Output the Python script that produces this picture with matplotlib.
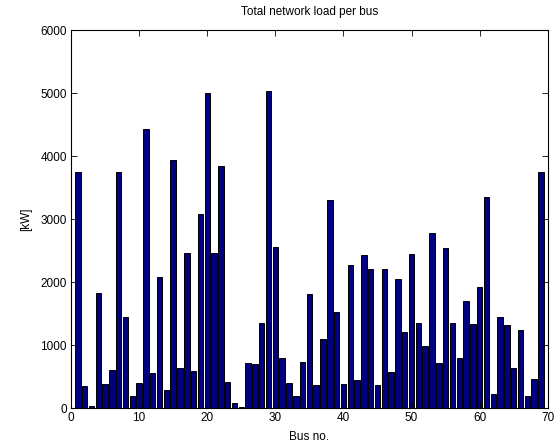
import numpy as np
import matplotlib.pyplot as plt

plt.rcParams['font.family'] = ['Liberation Sans', 'DejaVu Sans']
plt.rcParams['font.size'] = 8.5

# Load per bus in kW
bus = np.arange(1, 70)
load_kw = [3740, 345, 40, 1820, 377, 604, 3740, 1440, 186, 398,
           4430, 557, 2080, 292, 3935, 642, 2465, 588, 3080, 4995,
           2465, 3840, 414, 80, 10, 716, 695, 1347, 5030, 2550,
           801, 393, 186, 732, 1818, 361, 1098, 3310, 1520, 377,
           2270, 446, 2430, 2210, 361, 2210, 573, 2050, 1204, 2445,
           1347, 986, 2785, 716, 2535, 1347, 801, 1696, 1331, 1924,
           3345, 218, 1453, 1315, 642, 1240, 186, 461, 3740]

fig = plt.figure(figsize=(5.55, 4.48), dpi=100)
ax = fig.add_axes([0.128, 0.089, 0.859, 0.844])

ax.bar(bus, load_kw, width=0.8, color='#000080', edgecolor='black', linewidth=0.7)

ax.set_xlim(0, 70)
ax.set_ylim(0, 6000)
ax.set_xticks(np.arange(0, 71, 10))
ax.set_yticks(np.arange(0, 6001, 1000))
ax.tick_params(direction='in', top=True, right=True, length=4, width=0.6, pad=3)
for s in ax.spines.values():
    s.set_linewidth(0.8)

ax.set_title('Total network load per bus', fontsize=8.5, pad=11)
ax.set_xlabel('Bus no.', labelpad=5)
ax.set_ylabel('[kW]', labelpad=6)

fig.savefig('out.png', dpi=100)
